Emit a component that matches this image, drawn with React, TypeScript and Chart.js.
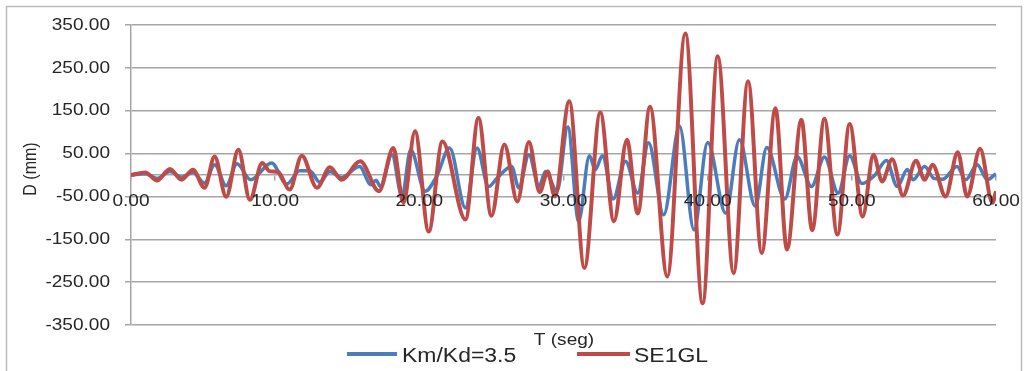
import { useEffect, useRef } from 'react';
import { Chart, registerables } from 'chart.js';

Chart.register(...registerables);

// Displacement response, Km/Kd = 3.5 (time in s, displacement in mm)
const BLUE_T = [0, 1.0, 1.8, 2.7, 3.5, 4.3, 5.1, 5.8, 6.6, 7.35, 8.3, 9.75, 10.8, 11.7, 12.4, 13.1, 13.8, 14.6, 15.85, 16.65, 17.0, 17.3, 18.1, 18.8, 19.4, 20.4, 21.2, 22.1, 23.2, 24.0, 24.8, 25.4, 26.4, 26.9, 27.6, 28.3, 28.75, 29.55, 30.3, 31.05, 31.8, 32.2, 32.7, 33.45, 34.3, 35.15, 35.9, 36.95, 38.05, 39.05, 40.0, 41.25, 42.2, 43.3, 44.1, 45.35, 46.2, 47.2, 48.1, 49.05, 49.85, 50.7, 51.6, 52.4, 53.15, 53.85, 54.25, 55.05, 55.7, 56.3, 57.3, 57.9, 58.7, 59.4, 60.0];
const BLUE_D = [0, 3, -8, 8, -5, 6, -19, 24, -25, 26, -11, 28, -21, 10, 10, -17, 8, -6, 20, -23, -12, -27, 47, -50, 59, -38, -3, 63, -77, 63, -27, -7, 20, -30, 47, -27, 8, -38, 112, -108, 45, 12, 45, -56, 32, -42, 75, -93, 114, -128, 76, -89, 82, -73, 64, -56, 43, -27, 42, -42, 45, -20, 0, 34, -27, 13, -11, 20, -8, -10, 20, -11, 24, -11, 3];

// Displacement response, record SE1GL
const RED_T = [0, 1.0, 1.8, 2.7, 3.5, 4.3, 5.1, 5.8, 6.6, 7.45, 8.25, 9.1, 9.6, 10.2, 11.0, 11.85, 12.9, 13.8, 14.6, 15.9, 17.2, 18.2, 18.9, 19.7, 20.65, 21.6, 23.2, 24.1, 25.0, 25.9, 26.8, 27.6, 28.35, 28.9, 29.4, 30.4, 31.45, 32.55, 33.5, 34.4, 35.15, 36.0, 37.2, 38.45, 39.65, 40.7, 41.8, 42.8, 43.75, 44.7, 45.5, 46.5, 47.25, 48.1, 49.0, 49.85, 50.75, 51.5, 52.1, 52.8, 53.55, 54.45, 55.05, 55.6, 56.5, 57.35, 58.0, 58.9, 59.75, 60.0];
const RED_D = [0, 6, -13, 14, -11, 12, -30, 43, -51, 59, -58, 28, 9, 7, -34, 45, -30, 18, -11, 32, -38, 63, -65, 102, -132, 78, -104, 133, -95, 71, -62, 77, -40, 8, -50, 172, -217, 146, -108, 82, -90, 159, -237, 330, -299, 277, -229, 219, -182, 156, -174, 129, -129, 131, -139, 119, -97, 47, -15, 37, -48, 33, -11, 24, -50, 53, -50, 61, -65, -38];

const X_TICKS = [0, 10, 20, 30, 40, 50, 60];
const Y_TICKS = [-350, -250, -150, -50, 50, 150, 250, 350];
const SERIES_NAMES = ['Km/Kd=3.5', 'SE1GL'];
const X_TITLE = 'T (seg)';
const Y_TITLE = 'D (mm)';

const BLUE = '#4A7EBB';
const RED = '#BE4B48';
const GRID = '#a6a6a6';
const INK = '#262626';
const FONT = '"Liberation Sans", Arial, sans-serif';
const STRETCH = 1.12;

const toPoints = (ts: number[], ds: number[]) => ts.map((t, i) => ({ x: t, y: ds[i] }));

function label(
  ctx: CanvasRenderingContext2D,
  text: string,
  x: number,
  y: number,
  size: number,
  align: CanvasTextAlign,
  baseline: CanvasTextBaseline = 'middle',
  rotate = 0
) {
  ctx.save();
  ctx.font = `${size}px ${FONT}`;
  ctx.fillStyle = INK;
  ctx.textAlign = align;
  ctx.textBaseline = baseline;
  ctx.translate(x, y);
  if (rotate) ctx.rotate(rotate);
  ctx.scale(rotate ? 1 : STRETCH, rotate ? STRETCH : 1);
  ctx.fillText(text, 0, 0);
  ctx.restore();
}

const decor = {
  id: 'decor',
  beforeDraw(chart: any) {
    const { ctx, width, height } = chart;
    ctx.save();
    ctx.fillStyle = '#ffffff';
    ctx.fillRect(0, 0, width, height);
    ctx.strokeStyle = '#bcbcbc';
    ctx.lineWidth = 1.5;
    ctx.strokeRect(6.5, 6.5, 1015, height + 20);
    ctx.restore();
  },
  afterDraw(chart: any) {
    const { ctx } = chart;
    const xs = chart.scales.x;
    const ys = chart.scales.y;
    const y0 = ys.getPixelForValue(0);

    Y_TICKS.forEach((v) => label(ctx, v.toFixed(2), ys.right - 21, ys.getPixelForValue(v), 17, 'right'));
    X_TICKS.forEach((v) => label(ctx, v.toFixed(2), xs.getPixelForValue(v), y0 + 26, 17, 'center'));

    label(ctx, Y_TITLE, 31, 169, 16, 'center', 'middle', -Math.PI / 2);
    label(ctx, X_TITLE, 564, 345, 17, 'center', 'alphabetic');

    // legend
    const items = [
      { name: SERIES_NAMES[0], color: BLUE, x0: 347, x1: 397, tx: 402 },
      { name: SERIES_NAMES[1], color: RED, x0: 577, x1: 630, tx: 634 },
    ];
    items.forEach((it) => {
      ctx.save();
      ctx.strokeStyle = it.color;
      ctx.lineWidth = 4;
      ctx.beginPath();
      ctx.moveTo(it.x0, 354);
      ctx.lineTo(it.x1, 354);
      ctx.stroke();
      ctx.restore();
      label(ctx, it.name, it.tx, 362, 20.5, 'left', 'alphabetic');
    });
  },
};

export default function App() {
  const ref = useRef<HTMLCanvasElement | null>(null);

  useEffect(() => {
    if (!ref.current) return;
    const chart = new Chart(ref.current, {
      type: 'line',
      data: {
        datasets: [
          {
            label: SERIES_NAMES[0],
            data: toPoints(BLUE_T, BLUE_D),
            borderColor: BLUE,
            borderWidth: 3.5,
            pointRadius: 0,
            cubicInterpolationMode: 'monotone',
            fill: false,
            order: 2,
          },
          {
            label: SERIES_NAMES[1],
            data: toPoints(RED_T, RED_D),
            borderColor: RED,
            borderWidth: 4,
            pointRadius: 0,
            cubicInterpolationMode: 'monotone',
            fill: false,
            order: 1,
          },
        ],
      },
      options: {
        animation: false,
        responsive: false,
        maintainAspectRatio: false,
        layout: { padding: { left: 0, right: 34, top: 25, bottom: 46 } },
        scales: {
          x: {
            type: 'linear',
            min: 0,
            max: 60,
            position: { y: 0 } as any,
            ticks: { display: false, stepSize: 10 },
            grid: { drawOnChartArea: false, drawTicks: true, tickLength: 5, color: GRID, lineWidth: 1.5 },
            border: { display: true, color: GRID, width: 1.5 },
          },
          y: {
            type: 'linear',
            min: -350,
            max: 350,
            ticks: { display: false },
            afterBuildTicks: (scale: any) => {
              scale.ticks = Y_TICKS.map((v) => ({ value: v }));
            },
            afterFit: (scale: any) => {
              scale.width = 131;
            },
            grid: { color: GRID, lineWidth: 1.5, drawTicks: true, tickLength: 6, tickColor: GRID },
            border: { display: true, color: GRID, width: 1.5 },
          },
        },
        plugins: {
          legend: { display: false },
          tooltip: { enabled: false },
        },
      },
      plugins: [decor],
    });
    return () => chart.destroy();
  }, []);

  return (
    <div style={{ position: 'fixed', left: 0, top: 0, width: 1030, height: 371, background: '#fff' }}>
      <canvas ref={ref} width={1030} height={371} style={{ width: 1030, height: 371, display: 'block' }} />
    </div>
  );
}
